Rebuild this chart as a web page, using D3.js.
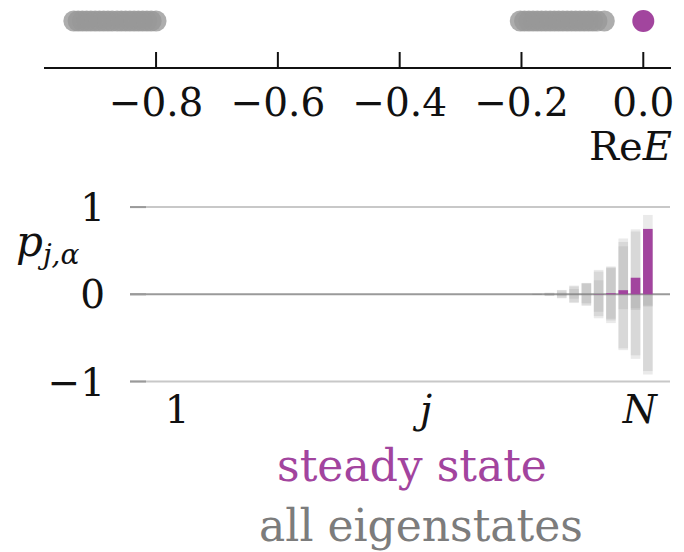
<!DOCTYPE html>
<html>
<head>
<meta charset="utf-8">
<script src="https://cdn.jsdelivr.net/npm/d3@7"></script>
<style>
  html, body { margin: 0; padding: 0; background: #fff; }
  svg { display: block; }
  text { font-family: "DejaVu Serif", "Liberation Serif", serif; }
</style>
</head>
<body>
<svg id="chart" width="684" height="552">
  <defs>
    <filter id="soft" x="-20%" y="-50%" width="140%" height="200%">
      <feGaussianBlur stdDeviation="0.6"/>
    </filter>
  </defs>
</svg>
<script>
// ---- spectrum (real parts of eigenvalues) ----
const steadyEigenvalues = [0.0];
const relaxEigenvalues = [
  -0.935, -0.928, -0.921, -0.914, -0.907, -0.900, -0.893, -0.886, -0.879, -0.872,
  -0.864, -0.857, -0.850, -0.843, -0.836, -0.829, -0.822, -0.815, -0.808, -0.800,
  -0.202, -0.195, -0.188, -0.181, -0.174, -0.167, -0.160, -0.153, -0.146, -0.139,
  -0.132, -0.125, -0.118, -0.111, -0.104, -0.097, -0.090, -0.083, -0.076, -0.064
];
const energyTicks = [-0.8, -0.6, -0.4, -0.2, 0.0];

// ---- site amplitudes p_{j,alpha} on the last sites j = N-9 ... N ----
const N = 40;
const steadyState = [0, 0, 0, 0, 0, 0.003, 0.012, 0.047, 0.19, 0.75];
const eigenstateA = [-0.008, 0.02, -0.046, 0.10, -0.134, 0.28, -0.33, 0.64, -0.74, 0.91];
const eigenstateB = [0.008, -0.02, 0.05, -0.10, 0.13, -0.275, 0.32, -0.62, 0.745, -0.92];
const eigenstateC = [-0.005, 0.015, -0.04, 0.09, -0.12, 0.26, -0.30, 0.60, -0.70, 0.74];
const eigenstateD = [0.005, -0.015, 0.045, -0.09, 0.12, -0.25, 0.30, -0.64, 0.72, -0.88];
const eigenstateE = [0.003, 0.01, 0.02, 0.06, 0.13, 0.16, 0.31, -0.17, -0.18, -0.14];
const eigenstateF = [-0.003, -0.01, -0.02, -0.05, -0.10, -0.20, -0.28, 0.55, -0.16, -0.13];
const eigenstates = [eigenstateA, eigenstateB, eigenstateC, eigenstateD, eigenstateE, eigenstateF];
const ampTicks = [1, 0, -1];
const siteTicks = [{site: 1, label: "1", nudge: 9}, {site: 21, label: "j", nudge: 12}, {site: N, label: "N", nudge: -8}];

const PURPLE = "#a2449e";
const INK = "#111";
const svg = d3.select("#chart");

// ================= top panel: spectrum =================
const xE = d3.scaleLinear().domain([-0.984, 0.0455]).range([44, 671]);
const axisY = 68;
const dotY = 21;

const topAxis = svg.append("g").attr("transform", `translate(0,${axisY})`);
topAxis.append("line")
  .attr("x1", xE.range()[0]).attr("x2", xE.range()[1])
  .attr("stroke", INK).attr("stroke-width", 2);
topAxis.selectAll("line.tick").data(energyTicks).join("line")
  .attr("class", "tick")
  .attr("x1", d => xE(d)).attr("x2", d => xE(d))
  .attr("y1", 0).attr("y2", -16)
  .attr("stroke", INK).attr("stroke-width", 2);
topAxis.selectAll("text").data(energyTicks).join("text")
  .attr("x", d => xE(d)).attr("y", 48)
  .attr("text-anchor", "middle")
  .attr("font-size", 39).attr("fill", INK)
  .text(d => (d < 0 ? "\u2212" : "") + Math.abs(d).toFixed(1));

const reLabel = svg.append("text")
  .attr("x", 672).attr("y", 160)
  .attr("text-anchor", "end").attr("font-size", 40).attr("fill", INK);
reLabel.append("tspan").text("Re");
reLabel.append("tspan").attr("font-style", "italic").text("E");

svg.append("g").attr("filter", "url(#soft)")
  .selectAll("circle").data(relaxEigenvalues).join("circle")
  .attr("cx", d => xE(d)).attr("cy", dotY).attr("r", 10.5)
  .attr("fill", "#999999").attr("fill-opacity", 0.8);
svg.append("g").attr("filter", "url(#soft)")
  .selectAll("circle").data(steadyEigenvalues).join("circle")
  .attr("cx", d => xE(d)).attr("cy", dotY).attr("r", 11)
  .attr("fill", PURPLE);

// ================= bottom panel: site amplitudes =================
const sites = d3.range(1, N + 1);
const tailSites = d3.range(N - 9, N + 1);
const xS = d3.scaleBand().domain(sites).range([162, 654]).paddingInner(0.22).paddingOuter(0.11);
const yP = d3.scaleLinear().domain([-1, 1]).range([381.5, 207.1]);
const gridX0 = 130, gridX1 = 670;

// grid lines at +-1 with short darker ticks, zero line darker
svg.append("g").selectAll("line").data(ampTicks.filter(d => d !== 0)).join("line")
  .attr("x1", gridX0).attr("x2", gridX1)
  .attr("y1", d => yP(d)).attr("y2", d => yP(d))
  .attr("stroke", "#c8c8c8").attr("stroke-width", 2);
svg.append("g").selectAll("line").data(ampTicks).join("line")
  .attr("x1", gridX0).attr("x2", gridX0 + 16)
  .attr("y1", d => yP(d)).attr("y2", d => yP(d))
  .attr("stroke", "#9a9a9a").attr("stroke-width", 2);
svg.append("line")
  .attr("x1", gridX0).attr("x2", gridX1)
  .attr("y1", yP(0)).attr("y2", yP(0))
  .attr("stroke", "#9a9a9a").attr("stroke-width", 2);

svg.append("g").selectAll("text").data(ampTicks).join("text")
  .attr("x", 105).attr("y", d => yP(d))
  .attr("dy", "0.36em")
  .attr("text-anchor", "end").attr("font-size", 39).attr("fill", INK)
  .text(d => (d < 0 ? "\u2212" : "") + Math.abs(d));

const pLabel = svg.append("text").attr("x", 16).attr("y", 256)
  .attr("font-size", 42).attr("fill", INK).attr("font-style", "italic");
pLabel.append("tspan").text("p");
pLabel.append("tspan").attr("font-size", 28).attr("dy", 8).text("j,\u03b1");

// eigenstate bars (translucent, overlapping)
const barFor = (vals) => vals.map((v, i) => ({site: tailSites[i], v}));
const gray = svg.append("g");
eigenstates.forEach(vals => {
  gray.append("g").selectAll("rect").data(barFor(vals)).join("rect")
    .attr("x", d => xS(d.site)).attr("width", xS.bandwidth())
    .attr("y", d => yP(Math.max(0, d.v)))
    .attr("height", d => Math.abs(yP(d.v) - yP(0)))
    .attr("fill", "#8a8a8a").attr("fill-opacity", 0.18);
});
svg.append("g").selectAll("rect").data(barFor(steadyState)).join("rect")
  .attr("x", d => xS(d.site)).attr("width", xS.bandwidth())
  .attr("y", d => yP(Math.max(0, d.v)))
  .attr("height", d => Math.abs(yP(d.v) - yP(0)))
  .attr("fill", PURPLE);

// site labels
svg.append("g").selectAll("text").data(siteTicks).join("text")
  .attr("x", d => xS(d.site) + xS.bandwidth() / 2 + d.nudge).attr("y", 423)
  .attr("text-anchor", "middle").attr("font-size", 39).attr("fill", INK)
  .attr("font-style", d => d.label === "1" ? "normal" : "italic")
  .text(d => d.label);

// legend
svg.append("text").attr("x", 412).attr("y", 481)
  .attr("text-anchor", "middle").attr("font-size", 44).attr("fill", PURPLE)
  .text("steady state");
svg.append("text").attr("x", 421).attr("y", 541)
  .attr("text-anchor", "middle").attr("font-size", 44).attr("fill", "#7c7c7c")
  .text("all eigenstates");
</script>
</body>
</html>
